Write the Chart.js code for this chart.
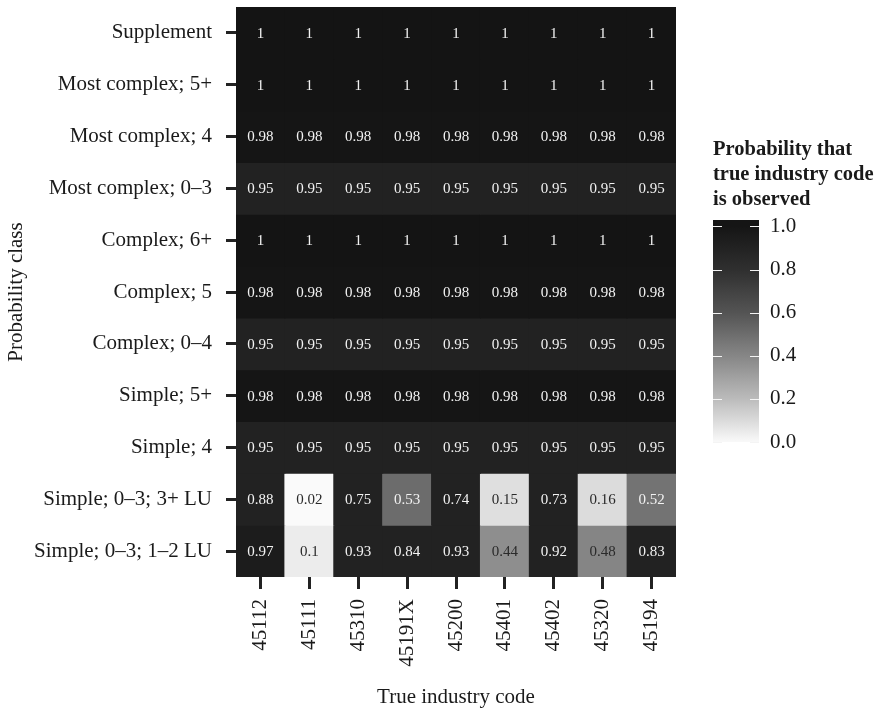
<!DOCTYPE html>
<html>
<head>
<meta charset="utf-8">
<script src="https://cdn.jsdelivr.net/npm/chart.js@4/dist/chart.umd.min.js"></script>
<style>
  html, body { margin: 0; padding: 0; background: #fff; }
  #wrap { position: relative; width: 883px; height: 712px; }
  #heat { position: absolute; left: 0; top: 0; }
  #scaleBar { position: absolute; left: 713px; top: 130px; }
</style>
</head>
<body>
<div id="wrap">
  <canvas id="heat" width="883" height="712"></canvas>
  <canvas id="scaleBar" width="170" height="330"></canvas>
</div>
<script>
// Columns: true industry codes
const industryCodes = ['45112', '45111', '45310', '45191X', '45200', '45401', '45402', '45320', '45194'];

// Rows: probability classes, top to bottom
const probabilityClasses = [
  'Supplement', 'Most complex; 5+', 'Most complex; 4', 'Most complex; 0–3',
  'Complex; 6+', 'Complex; 5', 'Complex; 0–4', 'Simple; 5+', 'Simple; 4',
  'Simple; 0–3; 3+ LU', 'Simple; 0–3; 1–2 LU'
];

// Probability that the true industry code is observed, one array per class
const supplement        = [1, 1, 1, 1, 1, 1, 1, 1, 1];
const mostComplex5plus  = [1, 1, 1, 1, 1, 1, 1, 1, 1];
const mostComplex4      = [0.98, 0.98, 0.98, 0.98, 0.98, 0.98, 0.98, 0.98, 0.98];
const mostComplex0to3   = [0.95, 0.95, 0.95, 0.95, 0.95, 0.95, 0.95, 0.95, 0.95];
const complex6plus      = [1, 1, 1, 1, 1, 1, 1, 1, 1];
const complex5          = [0.98, 0.98, 0.98, 0.98, 0.98, 0.98, 0.98, 0.98, 0.98];
const complex0to4       = [0.95, 0.95, 0.95, 0.95, 0.95, 0.95, 0.95, 0.95, 0.95];
const simple5plus       = [0.98, 0.98, 0.98, 0.98, 0.98, 0.98, 0.98, 0.98, 0.98];
const simple4           = [0.95, 0.95, 0.95, 0.95, 0.95, 0.95, 0.95, 0.95, 0.95];
const simple0to3LU3plus = [0.88, 0.02, 0.75, 0.53, 0.74, 0.15, 0.73, 0.16, 0.52];
const simple0to3LU1to2  = [0.97, 0.1, 0.93, 0.84, 0.93, 0.44, 0.92, 0.48, 0.83];

const classValues = [
  supplement, mostComplex5plus, mostComplex4, mostComplex0to3,
  complex6plus, complex5, complex0to4, simple5plus, simple4,
  simple0to3LU3plus, simple0to3LU1to2
];

// Colour-bar tick values
const legendTicks = [0, 0.2, 0.4, 0.6, 0.8, 1.0];
const legendRange = [0, 1.03];

const SERIF = "'Liberation Serif', 'DejaVu Serif', serif";
const INK = '#1a1a1a';
const TEXT_SIZE = 21;

// Piecewise-linear grey ramp helpers
function interpGray(v, stops) {
  if (v <= stops[0][0]) return stops[0][1];
  for (let k = 1; k < stops.length; k++) {
    if (v <= stops[k][0]) {
      const [v0, g0] = stops[k - 1], [v1, g1] = stops[k];
      return g0 + (g1 - g0) * (v - v0) / (v1 - v0);
    }
  }
  return stops[stops.length - 1][1];
}
function grayCss(g) { const c = Math.round(g); return `rgb(${c},${c},${c})`; }

const cellRamp = [[0, 251], [0.02, 250], [0.1, 236], [0.15, 223], [0.44, 142], [0.48, 133],
                  [0.52, 115], [0.53, 108], [0.7, 34], [0.95, 34], [0.97, 28], [0.98, 21], [1, 20]];
const legendRamp = [[0, 249], [0.2, 187], [0.4, 134], [0.6, 84], [0.8, 47], [1, 21]];

// One floating-bar dataset per probability class; each cell spans [row, row + 1]
const datasets = probabilityClasses.map((cls, r) => ({
  label: cls,
  data: industryCodes.map((code, c) => ({ x: code, y: [r, r + 1], v: classValues[r][c] })),
  backgroundColor: ctx => grayCss(interpGray(ctx.raw ? ctx.raw.v : 1, cellRamp)),
  borderWidth: 0,
  inflateAmount: 0.5,
  grouped: false,
  barPercentage: 1,
  categoryPercentage: 1
}));

// Writes each cell's value in its centre
const cellLabels = {
  id: 'cellLabels',
  afterDatasetsDraw(chart) {
    const ctx = chart.ctx;
    ctx.save();
    ctx.font = `15px ${SERIF}`;
    ctx.textAlign = 'center';
    ctx.textBaseline = 'middle';
    chart.data.datasets.forEach((ds, i) => {
      chart.getDatasetMeta(i).data.forEach((bar, j) => {
        const v = ds.data[j].v;
        ctx.fillStyle = v < 0.5 ? '#2a2a2a' : '#f2f2f2';
        ctx.fillText(String(v), bar.x, (bar.y + bar.base) / 2 + 1);
      });
    });
    ctx.restore();
  }
};

new Chart(document.getElementById('heat'), {
  type: 'bar',
  data: { labels: industryCodes, datasets },
  plugins: [cellLabels],
  options: {
    responsive: false,
    animation: false,
    layout: { padding: { left: 0, top: 7, right: 207, bottom: 0 } },
    plugins: { legend: { display: false }, tooltip: { enabled: false } },
    scales: {
      x: {
        type: 'category',
        grid: { offset: false, drawOnChartArea: false, drawTicks: true, tickLength: 12, tickWidth: 3, tickColor: '#222' },
        border: { display: false },
        ticks: {
          autoSkip: false, minRotation: 90, maxRotation: 90, padding: 10,
          color: INK, font: { family: SERIF, size: TEXT_SIZE }
        },
        title: {
          display: true, text: 'True industry code', color: INK,
          font: { family: SERIF, size: TEXT_SIZE }, padding: { top: 4, bottom: 2 }
        },
        afterFit(scale) { scale.height = 135; scale.paddingLeft = 0; scale.paddingRight = 0; }
      },
      y: {
        type: 'linear',
        min: 0, max: probabilityClasses.length, reverse: true,
        afterBuildTicks(scale) { scale.ticks = probabilityClasses.map((_, i) => ({ value: i + 0.5 })); },
        grid: { drawOnChartArea: false, drawTicks: true, tickLength: 10, tickWidth: 3, tickColor: '#222' },
        border: { display: false },
        ticks: {
          autoSkip: false, padding: 14, color: INK,
          font: { family: SERIF, size: TEXT_SIZE },
          callback: value => probabilityClasses[Math.floor(value)]
        },
        title: {
          display: true, text: 'Probability class', color: INK,
          font: { family: SERIF, size: TEXT_SIZE }, padding: { top: 4, bottom: 0 }
        },
        afterFit(scale) { scale.width = 236; scale.paddingTop = 0; scale.paddingBottom = 0; }
      }
    }
  }
});

// Short white marks on both edges of the colour bar at each tick
const legendMarks = {
  id: 'legendMarks',
  afterDatasetsDraw(chart) {
    const { ctx, chartArea } = chart;
    const y = chart.scales.y;
    ctx.save();
    ctx.strokeStyle = '#f4f4f4';
    ctx.lineWidth = 1.2;
    legendTicks.forEach(t => {
      const py = Math.round(y.getPixelForValue(t)) + 0.5;
      ctx.beginPath();
      ctx.moveTo(chartArea.left, py); ctx.lineTo(chartArea.left + 9, py);
      ctx.moveTo(chartArea.right - 9, py); ctx.lineTo(chartArea.right, py);
      ctx.stroke();
    });
    ctx.restore();
  }
};

new Chart(document.getElementById('scaleBar'), {
  type: 'bar',
  data: {
    labels: [''],
    datasets: [{
      data: [legendRange],
      borderWidth: 0,
      barPercentage: 1,
      categoryPercentage: 1,
      backgroundColor: ctx => {
        const chart = ctx.chart;
        if (!chart.chartArea) return '#333';
        const ys = chart.scales.y;
        const g = chart.ctx.createLinearGradient(0, ys.getPixelForValue(0), 0, ys.getPixelForValue(1));
        for (let k = 0; k <= 20; k++) {
          const v = k / 20;
          g.addColorStop(v, grayCss(interpGray(v, legendRamp)));
        }
        return g;
      }
    }]
  },
  plugins: [legendMarks],
  options: {
    responsive: false,
    animation: false,
    layout: { padding: { left: 0, top: 0, right: 0, bottom: 18 } },
    plugins: {
      legend: { display: false },
      tooltip: { enabled: false },
      title: {
        display: true, align: 'start', color: INK,
        text: ['Probability that', 'true industry code', 'is observed'],
        font: { family: SERIF, size: 20.5, weight: 'bold', lineHeight: 1.22 },
        padding: { top: 7, bottom: 8 }
      }
    },
    scales: {
      x: { type: 'category', display: false },
      y: {
        type: 'linear', position: 'right',
        min: legendRange[0], max: legendRange[1],
        afterBuildTicks(scale) { scale.ticks = legendTicks.map(v => ({ value: v })); },
        grid: { display: false, drawTicks: false },
        border: { display: false },
        ticks: {
          padding: 11, color: INK, font: { family: SERIF, size: TEXT_SIZE },
          callback: value => Number(value).toFixed(1)
        },
        afterFit(scale) { scale.width = 124; scale.paddingTop = 0; scale.paddingBottom = 0; }
      }
    }
  }
});
</script>
</body>
</html>
